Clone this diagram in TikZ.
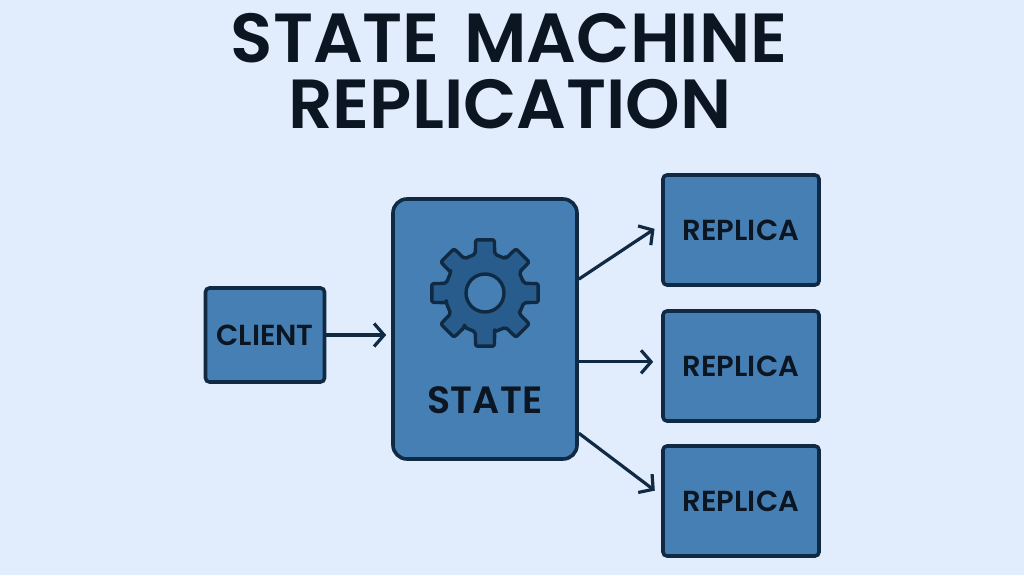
\documentclass[tikz,border=0pt]{standalone}
\usepackage{fontspec}
\setmainfont{Poppins}[BoldFont={Poppins SemiBold}]
\usetikzlibrary{positioning,arrows.meta}
\definecolor{pagebg}{HTML}{E1EDFD}
\definecolor{boxfill}{HTML}{457FB3}
\definecolor{boxline}{HTML}{102A43}
\definecolor{gearfill}{HTML}{275C8C}
\definecolor{inktext}{HTML}{0B1622}
\newcommand{\boxtext}[1]{\raisebox{-1pt}{#1}}
\tikzset{
    boxnode/.style={draw=boxline,fill=boxfill,line width=3.6pt,rounded corners=4pt,text=inktext,font=\bfseries\fontsize{29}{29}\selectfont},
    replicanode/.style={boxnode,minimum width=156pt,minimum height=110pt},
    titlenode/.style={text=inktext,font=\bfseries\fontsize{69.5}{69.5}\selectfont},
    linkarrow/.style={draw=boxline,line width=3.2pt,-{Straight Barb[length=10pt,width=23pt,line width=3.2pt]}}
}
\begin{document}
\begin{tikzpicture}[x=1pt,y=-1pt]
    \useasboundingbox[fill=pagebg] (0,0) rectangle (1024,575);
    \node[titlenode] (titleone) at (509,38) {STATE\hspace{8pt} MACHINE};
    \node[titlenode] (titletwo) at (510,104) {REPLICATION};
    \node[boxnode,minimum width=119pt,minimum height=94pt] (client) at (265,335) {\boxtext{CLIENT}};
    \node[boxnode,rounded corners=14pt,minimum width=184pt,minimum height=260pt] (state) at (485,329) {};
    \node[text=inktext,font=\bfseries\fontsize{38}{38}\selectfont] (statelabel) at (485,400) {STATE};
    \node[replicanode] (replicaone) at (741,230) {\boxtext{REPLICA}};
    \node[replicanode] (replicatwo) at (741,366) {\boxtext{REPLICA}};
    \node[replicanode] (replicathree) at (741,501) {\boxtext{REPLICA}};
    % gear
    \begin{scope}[shift={(485,293)}]
        \draw[fill=gearfill,draw=boxline,line width=3.4pt,line join=round,rounded corners=2pt]
            (-22:40)
            \foreach \a in {0,45,...,315} {
                -- (\a-14:40) -- (\a-10:54) -- (\a+10:54) -- (\a+14:40) -- (\a+31:40)
            } -- cycle;
        \draw[fill=boxfill,draw=boxline,line width=3.4pt] (0,0) circle[radius=19];
    \end{scope}
    \draw[linkarrow,shorten >=5pt] (client.east) -- (state.west |- client.east);
    \draw[linkarrow,shorten >=8pt] (state.28) -- (replicaone.176);
    \draw[linkarrow,shorten >=8pt] (state.east |- replicatwo.177) -- (replicatwo.177);
    \draw[linkarrow,shorten >=8pt] (state.-48) -- (replicathree.176);
\end{tikzpicture}
\end{document}
